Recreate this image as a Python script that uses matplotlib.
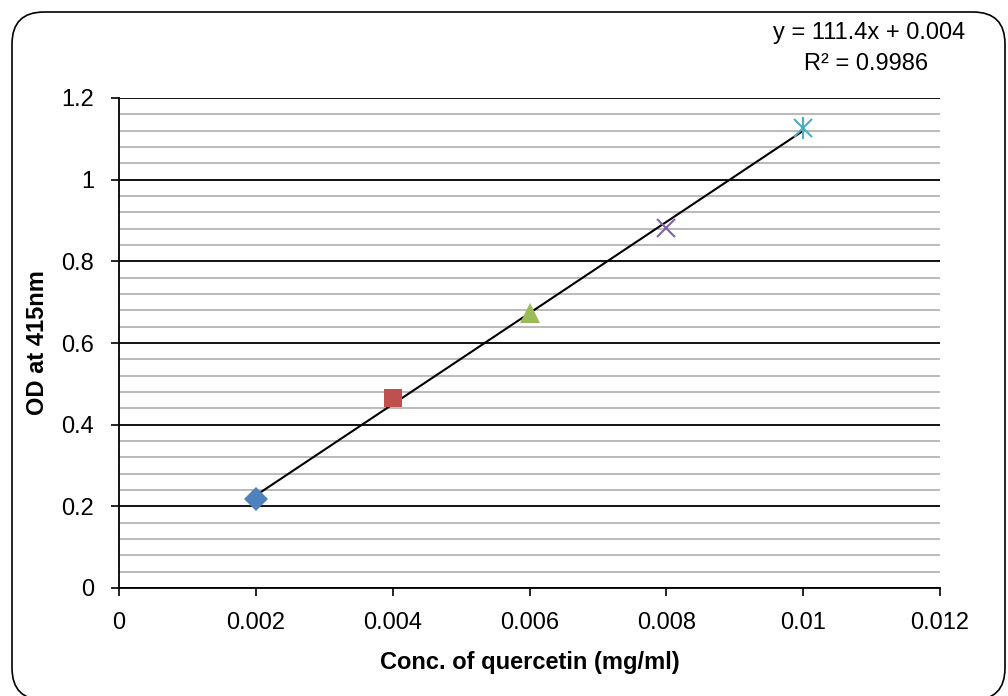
import numpy as np
import matplotlib
matplotlib.use('Agg')
import matplotlib.pyplot as plt
from matplotlib.patches import FancyBboxPatch
from matplotlib.ticker import MultipleLocator, FuncFormatter

plt.rcParams['font.family'] = ['Liberation Sans', 'DejaVu Sans']

# standard curve of quercetin
conc = [0.002, 0.004, 0.006, 0.008, 0.010]
od = [0.218, 0.466, 0.674, 0.881, 1.127]
markers = ['D', 's', '^', 'x', 'x']
colours = ['#4f81bd', '#c0504d', '#9bbb59', '#8064a2', '#4bacc6']
eq_text = 'y = 111.4x + 0.004'
r2_text = 'R² = 0.9986'
xticks = [0, 0.002, 0.004, 0.006, 0.008, 0.01, 0.012]
yticks = [0, 0.2, 0.4, 0.6, 0.8, 1, 1.2]

fig = plt.figure(figsize=(10.08, 6.96), dpi=100)
W, H = 1008.0, 696.0
FS = 17

# rounded chart border, in inches (runs off the bottom edge like the screenshot)
border = FancyBboxPatch((0.12, -0.04), 9.93, 6.88,
                        boxstyle='round,pad=0,rounding_size=0.32',
                        transform=fig.dpi_scale_trans, fill=False,
                        edgecolor='black', linewidth=1.2, clip_on=False)
fig.patches.append(border)

ax = fig.add_axes([119 / W, (H - 588) / H, (940 - 119) / W, (588 - 98) / H])

ax.set_xlim(0, 0.012)
ax.set_ylim(0, 1.2)
ax.set_xticks(xticks)
ax.set_yticks(yticks)
ax.yaxis.set_minor_locator(MultipleLocator(0.04))

def fmt(x, pos):
    return ('%.3f' % x).rstrip('0').rstrip('.') if x != 0 else '0'

ax.xaxis.set_major_formatter(FuncFormatter(fmt))
ax.yaxis.set_major_formatter(FuncFormatter(fmt))

ax.grid(which='major', axis='y', color='black', linewidth=1.3)
ax.grid(which='minor', axis='y', color='#b4b4b4', linewidth=1.3)
ax.set_axisbelow(True)

for s in ['top', 'right']:
    ax.spines[s].set_visible(False)
for s in ['left', 'bottom']:
    ax.spines[s].set_linewidth(1.3)
    ax.spines[s].set_color('black')

ax.tick_params(which='major', direction='out', length=6, width=1.2,
               labelsize=FS)
ax.tick_params(axis='x', pad=11)
ax.tick_params(axis='y', pad=12)
ax.tick_params(which='minor', length=0)

# trend line from least squares fit
k, b = np.polyfit(conc, od, 1)
xs = np.array([conc[0], conc[-1]])
ax.plot(xs, k * xs + b, color='black', linewidth=1.5, zorder=3)

for i in range(len(conc)):
    if markers[i] == 'x':
        ax.plot(conc[i], od[i], marker='x', color=colours[i], markersize=13,
                markeredgewidth=1.5, linestyle='none', zorder=4)
        if i == len(conc) - 1:
            ax.plot(conc[i], od[i], marker='|', color=colours[i],
                    markersize=16, markeredgewidth=1.5, linestyle='none',
                    zorder=4)
    else:
        size = {'D': 12, 's': 13, '^': 14}[markers[i]]
        ax.plot(conc[i], od[i], marker=markers[i], color=colours[i],
                markersize=size, markeredgewidth=0, linestyle='none',
                zorder=4)

fig.text(530 / W, 1 - 663 / H, 'Conc. of quercetin (mg/ml)', fontsize=FS,
         fontweight='bold', ha='center', va='center')
fig.text(38 / W, 1 - 343 / H, 'OD at 415nm', fontsize=FS, fontweight='bold',
         ha='center', va='center', rotation=90)

fig.text(965 / W, 1 - 33 / H, eq_text, fontsize=FS, ha='right', va='center')
fig.text(866 / W, 1 - 64 / H, r2_text, fontsize=FS, ha='center', va='center')

plt.savefig('out.png', dpi=100)
